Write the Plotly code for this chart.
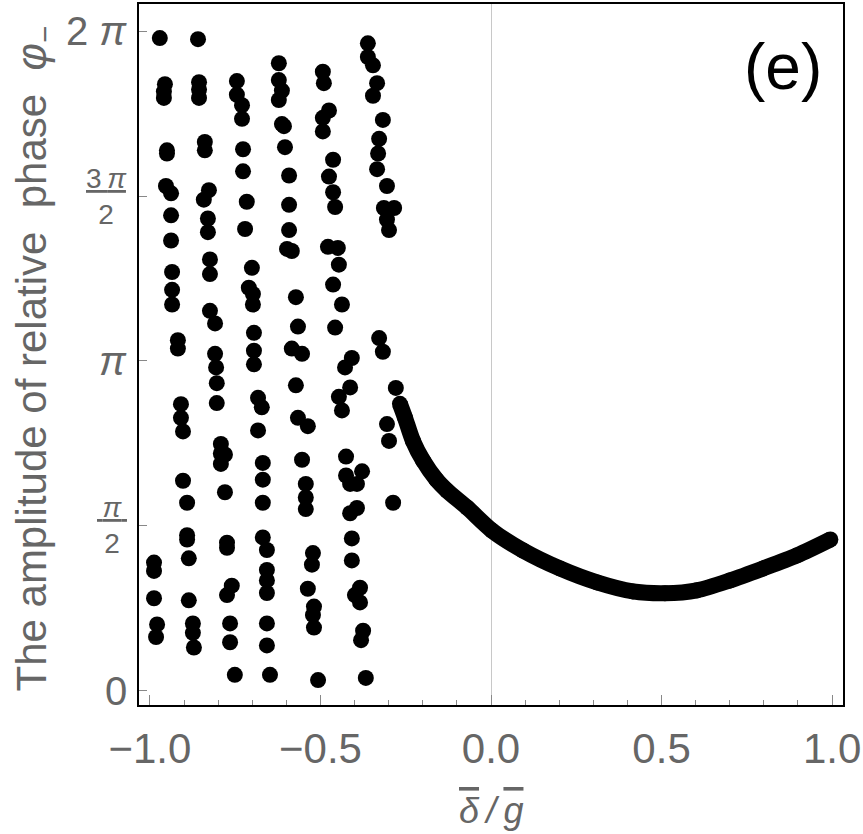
import numpy as np
import plotly.graph_objects as go

# ---------------- data ----------------
# scattered (chaotic) points for delta/g < -0.28
scatter_x = [
    -0.988, -0.988, -0.988, -0.979, -0.982,
    -0.971, -0.956, -0.959, -0.959, -0.950, -0.950, -0.953, -0.938, -0.938, -0.938,
    -0.935, -0.935, -0.935, -0.918, -0.918, -0.909, -0.909, -0.903, -0.903, -0.891,
    -0.891, -0.891, -0.886, -0.886, -0.874, -0.874, -0.871,
    -0.859, -0.856, -0.856, -0.856, -0.839, -0.839, -0.827, -0.842, -0.830, -0.830,
    -0.824, -0.824, -0.824, -0.809, -0.809, -0.806, -0.804, -0.804, -0.792, -0.792,
    -0.780, -0.792, -0.780, -0.774, -0.774, -0.760, -0.774, -0.765, -0.765, -0.751,
    -0.745, -0.745, -0.730, -0.730, -0.727, -0.727, -0.716, -0.721, -0.701, -0.710,
    -0.698, -0.698, -0.695, -0.695, -0.695, -0.683, -0.672, -0.683, -0.669, -0.669,
    -0.669, -0.669, -0.657, -0.657, -0.657, -0.657, -0.657, -0.657, -0.648,
    -0.622, -0.622, -0.613, -0.622, -0.613, -0.607, -0.604, -0.592, -0.592, -0.592,
    -0.598, -0.584, -0.572, -0.566, -0.584, -0.554, -0.572, -0.566, -0.537, -0.554,
    -0.543, -0.543, -0.543, -0.522, -0.525, -0.537, -0.519, -0.522, -0.519, -0.507,
    -0.493, -0.490, -0.475, -0.493, -0.493, -0.463, -0.475, -0.463, -0.457, -0.478,
    -0.449, -0.446, -0.463, -0.437, -0.457, -0.408, -0.428, -0.413, -0.446, -0.437,
    -0.425, -0.425, -0.413, -0.393, -0.378, -0.393, -0.413, -0.408, -0.408, -0.384,
    -0.399, -0.384, -0.375, -0.381, -0.367,
    -0.361, -0.361, -0.346, -0.334, -0.346, -0.317, -0.328, -0.331, -0.334, -0.305,
    -0.314, -0.284, -0.305, -0.299, -0.328, -0.317, -0.305, -0.299, -0.287,
    -0.279,
]
scatter_y = [
    1.22, 1.14, 0.88, 0.63, 0.51,
    6.22, 5.78, 5.71, 5.65, 5.15, 5.12, 4.81, 4.74, 4.53, 4.29,
    3.99, 3.82, 3.68, 3.34, 3.26, 2.73, 2.60, 2.47, 2.00, 1.79,
    1.48, 1.44, 1.26, 0.86, 0.64, 0.55, 0.41,
    6.21, 5.80, 5.73, 5.65, 5.23, 5.15, 4.77, 4.68, 4.50, 4.37,
    4.11, 3.97, 3.62, 3.50, 3.21, 3.08, 2.93, 2.74, 2.35, 2.26,
    2.25, 2.16, 1.89, 1.41, 1.36, 1.00, 0.91, 0.64, 0.46, 0.15,
    5.81, 5.68, 5.58, 5.45, 5.16, 4.95, 4.66, 4.40, 4.03, 3.84,
    3.78, 3.68, 3.41, 3.24, 3.11, 2.79, 2.70, 2.48, 2.17, 2.01,
    1.79, 1.46, 1.34, 1.15, 1.05, 0.93, 0.64, 0.43, 0.15,
    5.98, 5.82, 5.72, 5.63, 5.40, 5.38, 5.18, 4.91, 4.63, 4.39,
    4.21, 4.19, 3.75, 3.47, 3.26, 3.21, 2.91, 2.60, 2.52, 2.20,
    1.97, 1.84, 1.73, 1.31, 1.20, 0.97, 0.80, 0.72, 0.60, 0.10,
    5.90, 5.79, 5.53, 5.46, 5.33, 5.06, 4.90, 4.75, 4.61, 4.23,
    4.22, 4.06, 3.87, 3.68, 3.46, 3.17, 3.08, 2.89, 2.80, 2.67,
    2.23, 2.05, 1.97, 1.97, 2.09, 1.74, 1.69, 1.45, 1.24, 0.98,
    0.91, 0.84, 0.57, 0.48, 0.12,
    6.17, 6.04, 5.96, 5.79, 5.67, 5.44, 5.26, 5.12, 4.97, 4.81,
    4.60, 4.60, 4.49, 4.39, 3.36, 3.23, 2.54, 2.38, 1.79,
    2.885,
]

# regular branch for delta/g > -0.28
curve_x = [-0.267, -0.252, -0.229, -0.199, -0.160, -0.129, -0.070, 0.003, 0.094,
           0.202, 0.311, 0.416, 0.510, 0.604, 0.701, 0.798, 0.897, 0.995]
curve_y = [2.733, 2.600, 2.381, 2.191, 2.010, 1.906, 1.744, 1.525, 1.335,
           1.164, 1.031, 0.945, 0.927, 0.955, 1.050, 1.164, 1.288, 1.440]

y_tick_vals = [0, np.pi / 2, np.pi, 3 * np.pi / 2, 2 * np.pi]
y_tick_text = ["0", "<u>\u2009<i>π</i>\u2009</u><br>2", "<i>π</i>",
               "<u>3\u2009<i>π</i></u><br>2", "2 <i>π</i>"]
y_tick_size = [40, 28, 40, 28, 40]

FONT = "Liberation Sans, Arial, sans-serif"
GRAY = "#666666"

fig = go.Figure()
fig.add_trace(go.Scatter(
    x=scatter_x, y=scatter_y, mode="markers",
    marker=dict(size=16, color="black", line=dict(width=0)),
    showlegend=False, hoverinfo="x+y"))
fig.add_trace(go.Scatter(
    x=curve_x, y=curve_y, mode="lines+markers",
    line=dict(width=16, color="black", shape="spline", smoothing=0.8),
    marker=dict(size=16, color="black", line=dict(width=0)),
    showlegend=False, hoverinfo="x+y"))

fig.update_layout(
    width=863, height=834,
    margin=dict(l=139, r=20, t=2, b=129),
    paper_bgcolor="white", plot_bgcolor="white",
    font=dict(family=FONT, color=GRAY),
    xaxis=dict(
        range=[-1.032, 1.032], showgrid=False,
        zeroline=True, zerolinecolor="#c8c8c8", zerolinewidth=1,
        showline=True, linecolor="black", linewidth=2, mirror=True,
        tick0=0, dtick=0.5, tickformat=".1f",
        ticks="inside", ticklen=10, tickcolor="#888888", tickwidth=1,
        minor=dict(dtick=0.1, tick0=0, ticks="inside", ticklen=5, tickcolor="#888888"),
        tickfont=dict(size=42, color=GRAY, family=FONT),
        ticklabelstandoff=6,
    ),
    yaxis=dict(
        range=[-0.138, 6.545], showgrid=False, zeroline=False,
        showline=True, linecolor="black", linewidth=2, mirror=True,
        tickvals=y_tick_vals, showticklabels=False,
        ticks="inside", ticklen=8, tickcolor="#888888", tickwidth=1,
    ),
)

for v, t, s in zip(y_tick_vals, y_tick_text, y_tick_size):
    fig.add_annotation(x=0, xref="paper", y=v, yref="y", text=t, showarrow=False,
                       xanchor="right", yanchor="middle", align="center", xshift=-10,
                       font=dict(size=s, color=GRAY, family=FONT))

fig.add_annotation(x=-0.148, xref="paper", y=0.494, yref="paper",
                   text="The amplitude of relative\u00a0 phase\u00a0 <i>φ</i><sub>−</sub>",
                   textangle=-90, showarrow=False, xanchor="center", yanchor="middle",
                   font=dict(size=42, color=GRAY, family=FONT))

fig.add_annotation(x=0.5, xref="paper", y=-0.150, yref="paper",
                   text='<i><span style="text-decoration:overline">δ</span>\u2009/\u2009'
                        '<span style="text-decoration:overline">g</span></i>',
                   showarrow=False, xanchor="center", yanchor="middle",
                   font=dict(size=36, color=GRAY, family=FONT))

fig.add_annotation(x=0.915, xref="paper", y=0.91, yref="paper", text="(e)",
                   showarrow=False, xanchor="center", yanchor="middle",
                   font=dict(size=64, color="black", family=FONT))

fig.write_html("out.html")
